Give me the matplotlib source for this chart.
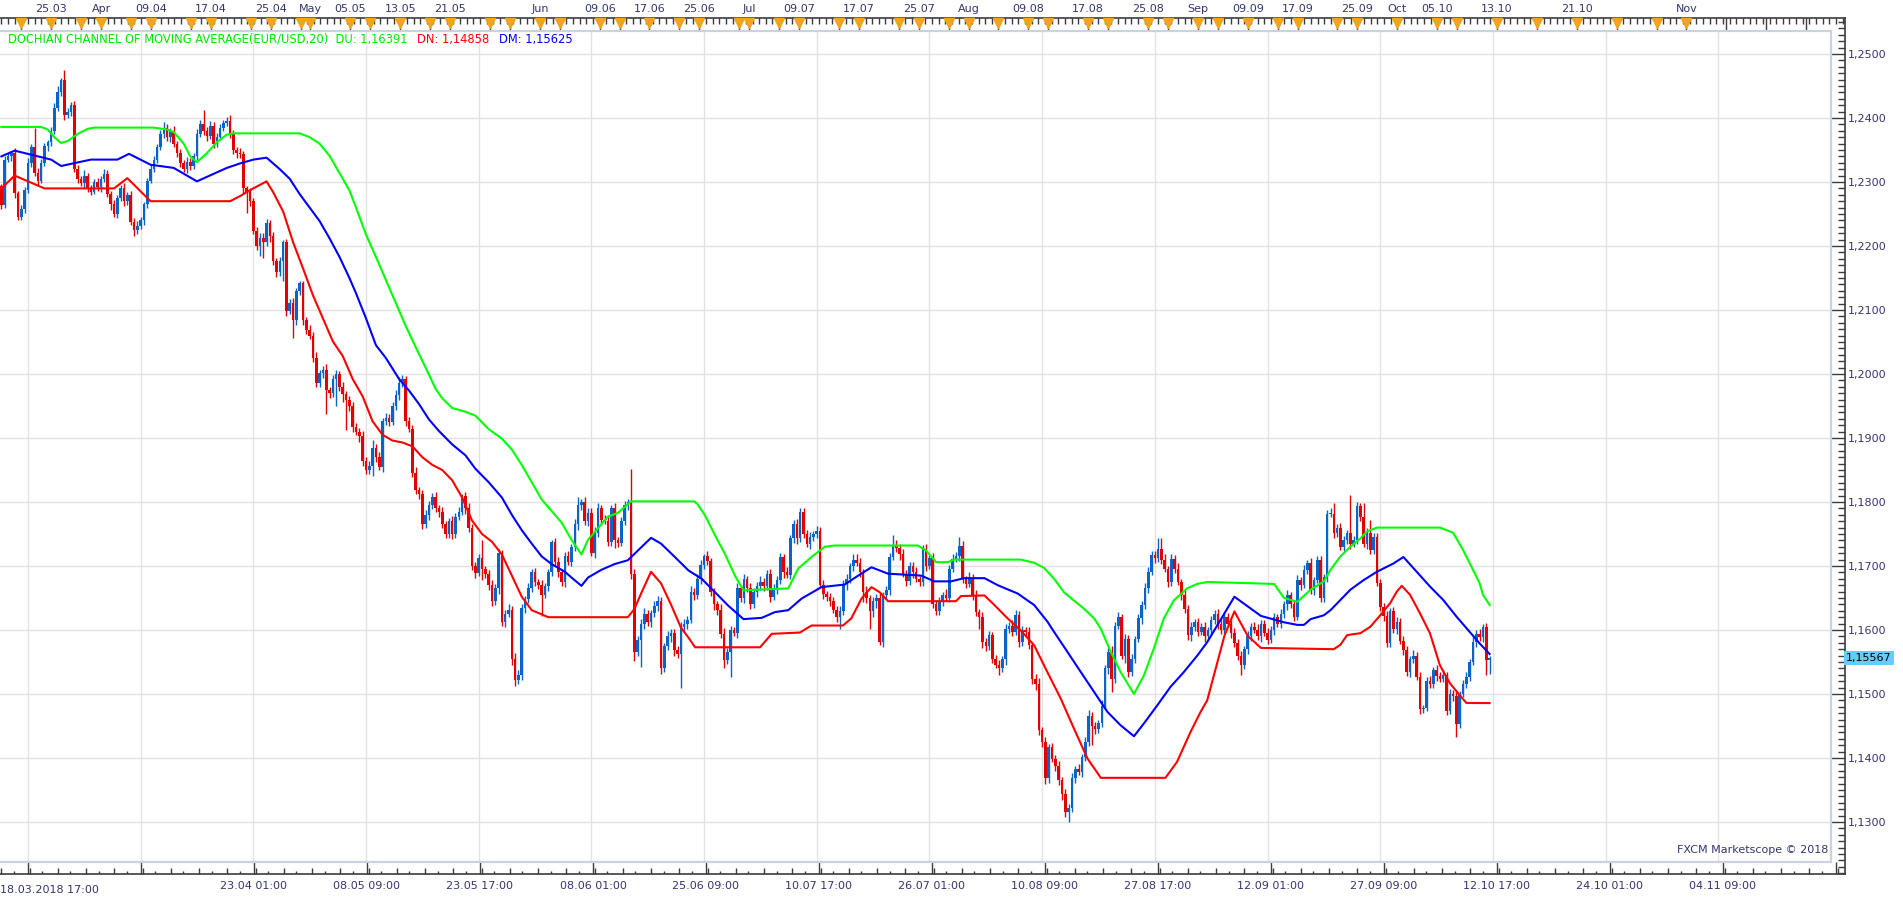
import numpy as np
import matplotlib.pyplot as plt
from matplotlib.ticker import FixedLocator, MultipleLocator, FuncFormatter

plt.rcParams['font.family'] = 'DejaVu Sans'
plt.rcParams['font.size'] = 8

# ---------------- datos (velas de 8h, precios en pips: 2264 -> 1.2264) ----------------
open0 = 2293
closes = [
    2264, 2335, 2340, 2345, 2283, 2245, 2258, 2287, 2330, 2355,
    2314, 2302, 2330, 2356, 2362, 2380, 2415, 2440, 2460, 2405,
    2410, 2420, 2320, 2305, 2298, 2310, 2290, 2285, 2300, 2292,
    2305, 2312, 2282, 2265, 2250, 2275, 2290, 2270, 2280, 2238,
    2225, 2232, 2240, 2265, 2302, 2320, 2335, 2355, 2375, 2385,
    2370, 2380, 2360, 2345, 2330, 2320, 2332, 2325, 2340, 2375,
    2390, 2380, 2372, 2388, 2360, 2370, 2385, 2392, 2395, 2376,
    2350, 2345, 2343, 2290, 2284, 2270, 2224, 2200, 2212, 2206,
    2236, 2215, 2177, 2159, 2177, 2206, 2099, 2111, 2084, 2129,
    2142, 2084, 2069, 2060, 2025, 1986, 2002, 2007, 1975, 1970,
    1992, 2000, 1980, 1968, 1960, 1950, 1917, 1910, 1903, 1864,
    1850, 1857, 1885, 1870, 1855, 1926, 1932, 1925, 1950, 1967,
    1986, 1992, 1926, 1914, 1846, 1819, 1812, 1765, 1780, 1796,
    1808, 1790, 1785, 1765, 1750, 1770, 1750, 1777, 1785, 1810,
    1790, 1760, 1700, 1689, 1712, 1695, 1688, 1670, 1646, 1665,
    1720, 1612, 1625, 1632, 1555, 1522, 1530, 1634, 1648, 1665,
    1690, 1675, 1670, 1655, 1668, 1690, 1738, 1706, 1690, 1675,
    1715, 1707, 1729, 1765, 1795, 1800, 1770, 1783, 1720, 1752,
    1790, 1772, 1770, 1738, 1790, 1740, 1736, 1770, 1795, 1800,
    1688, 1566, 1585, 1610, 1625, 1612, 1626, 1638, 1646, 1541,
    1575, 1590, 1595, 1569, 1563, 1604, 1610, 1616, 1660, 1654,
    1680, 1701, 1715, 1708, 1659, 1640, 1632, 1594, 1553, 1566,
    1600, 1595, 1665, 1650, 1680, 1665, 1640, 1660, 1668, 1675,
    1668, 1688, 1652, 1664, 1678, 1714, 1690, 1686, 1743, 1765,
    1743, 1784, 1750, 1735, 1745, 1750, 1755, 1670, 1656, 1652,
    1645, 1632, 1620, 1630, 1672, 1680, 1700, 1710, 1705, 1690,
    1660, 1650, 1630, 1645, 1650, 1581, 1655, 1662, 1714, 1733,
    1728, 1718, 1688, 1676, 1700, 1690, 1680, 1675, 1727, 1700,
    1712, 1641, 1630, 1645, 1655, 1650, 1696, 1711, 1716, 1732,
    1680, 1672, 1682, 1655, 1628, 1620, 1581, 1575, 1592, 1555,
    1545, 1540, 1555, 1602, 1607, 1597, 1623, 1581, 1600, 1597,
    1576, 1524, 1516, 1443, 1425, 1368, 1417, 1399, 1388, 1365,
    1344, 1316, 1322, 1368, 1383, 1378, 1401, 1425, 1466, 1450,
    1445, 1455, 1482, 1540, 1566, 1524, 1607, 1620, 1560, 1586,
    1534, 1555, 1586, 1618, 1639, 1665, 1691, 1717, 1712, 1727,
    1710, 1695, 1675, 1711, 1696, 1675, 1655, 1633, 1592, 1604,
    1612, 1597, 1605, 1590, 1600, 1615, 1625, 1610, 1600, 1620,
    1610, 1595, 1580, 1560, 1545, 1570, 1590, 1605, 1600, 1590,
    1610, 1595, 1585, 1600, 1620, 1610, 1625, 1640, 1655, 1640,
    1621, 1678, 1670, 1694, 1704, 1662, 1678, 1709, 1650, 1683,
    1782, 1782, 1751, 1760, 1730, 1741, 1751, 1735, 1741, 1793,
    1777, 1735, 1752, 1725, 1746, 1673, 1636, 1622, 1580, 1630,
    1601, 1613, 1583, 1569, 1534, 1555, 1560, 1527, 1476, 1478,
    1521, 1516, 1537, 1528, 1524, 1530, 1474, 1500, 1497, 1453,
    1500, 1516, 1527, 1550, 1581, 1594, 1589, 1605, 1553, 1557,
]
# mecha superior / inferior (pips fuera del cuerpo)
hi_ext = [
    4, 5, 6, 4, 8, 3, 6, 5, 7, 5,   29, 8, 6, 5, 4, 6, 8, 10, 2, 15,
    6, 5, 7, 6, 5, 8, 4, 6, 5, 7,   5, 8, 6, 4, 7, 5, 6, 8, 4, 6,
    5, 7, 6, 4, 5, 8, 6, 5, 7, 9,   6, 5, 8, 4, 6, 5, 7, 5, 6, 8,
    7, 23, 6, 8, 5, 7, 6, 5, 7, 9,  6, 5, 8, 6, 4, 7, 5, 6, 8, 9,
    6, 4, 7, 5, 6, 3, 5, 6, 7, 5,   3, 3, 5, 7, 6, 9, 5, 6, 8, 5,
    7, 6, 5, 8, 6, 5, 7, 6, 5, 8,   6, 7, 12, 5, 8, 6, 7, 5, 6, 8,
    9, 6, 5, 7, 6, 8, 5, 6, 7, 5,   6, 8, 5, 7, 6, 5, 8, 6, 7, 3,
    6, 8, 5, 7, 6, 28, 5, 6, 8, 7,  6, 5, 7, 8, 6, 9, 7, 6, 5, 8,
    6, 7, 5, 8, 6, 5, 3, 6, 8, 5,   7, 9, 6, 8, 13, 4, 8, 8, 7, 9,
    8, 6, 7, 9, 6, 8, 5, 7, 6, 5,   52, 8, 6, 7, 9, 6, 5, 8, 7, 6,
    5, 8, 6, 7, 6, 9, 7, 6, 8, 5,   7, 9, 4, 8, 5, 7, 6, 8, 9, 6,
    7, 5, 8, 6, 7, 5, 8, 6, 7, 9,   6, 5, 7, 8, 6, 7, 5, 8, 6, 7,
    9, 6, 7, 6, 8, 5, 7, 6, 8, 5,   6, 7, 5, 8, 6, 7, 5, 8, 9, 7,
    6, 8, 5, 7, 6, 8, 5, 7, 6, 15,  8, 6, 8, 5, 7, 6, 8, 5, 6, 7,
    5, 8, 6, 7, 5, 9, 6, 8, 6, 13,  7, 5, 8, 6, 7, 5, 8, 6, 7, 5,
    6, 8, 5, 7, 6, 8, 9, 6, 7, 5,   8, 6, 7, 9, 6, 8, 5, 7, 6, 8,
    5, 7, 6, 8, 5, 7, 6, 8, 9, 6,   7, 5, 8, 6, 7, 9, 6, 8, 5, 7,
    6, 8, 5, 7, 6, 9, 8, 6, 7, 16,  16, 8, 5, 7, 6, 8, 5, 7, 6, 8,
    5, 7, 6, 8, 5, 7, 6, 8, 9, 6,   7, 5, 8, 6, 7, 5, 8, 6, 7, 9,
    6, 5, 8, 6, 7, 5, 8, 6, 7, 5,   6, 8, 5, 7, 6, 8, 5, 7, 6, 5,
    6, 9, 16, 6, 7, 6, 5, 60, 6, 7, 5, 21, 8, 20, 6, 5, 7, 6, 8, 5,
    6, 8, 5, 7, 6, 5, 8, 6, 7, 5,   6, 7, 5, 8, 6, 7, 5, 8, 6, 7,
    5, 6, 7, 5, 8, 6, 7, 4, 6, 3,
]
lo_ext = [
    6, 5, 4, 7, 8, 4, 5, 6, 4, 7,   5, 6, 4, 5, 7, 6, 5, 4, 6, 8,
    5, 7, 4, 6, 5, 7, 6, 5, 4, 6,   7, 5, 6, 8, 4, 6, 5, 7, 6, 5,
    9, 6, 5, 7, 6, 4, 5, 6, 5, 7,   6, 8, 5, 6, 7, 5, 6, 7, 5, 6,
    5, 6, 8, 5, 7, 6, 5, 6, 4, 7,   6, 8, 5, 7, 33, 8, 5, 6, 15, 24,
    6, 8, 7, 7, 6, 32, 8, 6, 27, 8, 6, 7, 6, 5, 6, 6, 6, 8, 37, 7,
    6, 42, 7, 12, 48, 8, 7, 6, 9, 8, 7, 6, 17, 7, 5, 8, 6, 7, 5, 6,
    7, 6, 8, 5, 7, 6, 8, 7, 6, 8,   7, 6, 9, 5, 7, 6, 8, 7, 5, 6,
    8, 7, 6, 8, 5, 17, 6, 8, 9, 7,  8, 6, 7, 5, 9, 10, 6, 8, 7, 6,
    5, 7, 6, 33, 5, 7, 6, 5, 7, 6,  8, 5, 7, 6, 9, 7, 6, 8, 5, 7,
    6, 8, 5, 7, 6, 12, 7, 5, 6, 8,  9, 15, 7, 43, 8, 5, 7, 6, 8, 10,
    7, 6, 8, 9, 6, 54, 6, 8, 5, 7,  6, 8, 5, 7, 6, 8, 9, 7, 13, 6,
    39, 5, 7, 6, 8, 5, 7, 6, 8, 5,  7, 6, 8, 5, 7, 6, 8, 5, 6, 7,
    8, 6, 7, 5, 8, 6, 7, 5, 8, 6,   7, 5, 8, 18, 7, 9, 6, 8, 5, 7,
    16, 8, 28, 9, 10, 5, 8, 6, 7, 5, 6, 8, 5, 7, 6, 8, 5, 7, 6, 8,
    5, 7, 7, 6, 8, 5, 7, 6, 5, 8,   6, 7, 5, 8, 6, 18, 9, 8, 6, 7,
    5, 11, 6, 10, 7, 6, 5, 8, 6, 7, 5, 8, 9, 7, 8, 9, 7, 6, 8, 7,
    9, 8, 16, 6, 7, 5, 8, 6, 7, 30, 8, 6, 7, 5, 8, 21, 7, 5, 6, 12,
    8, 6, 7, 5, 8, 6, 7, 5, 8, 6,   7, 5, 8, 6, 7, 5, 8, 6, 7, 9,
    6, 7, 5, 8, 6, 7, 5, 8, 6, 7,   5, 8, 6, 7, 15, 6, 8, 7, 5, 6,
    8, 5, 7, 6, 8, 5, 7, 6, 8, 5,   7, 6, 8, 5, 7, 6, 8, 5, 7, 6,
    8, 5, 7, 6, 5, 7, 6, 8, 5, 7,   6, 5, 8, 6, 7, 5, 6, 8, 7, 6,
    6, 7, 5, 8, 6, 7, 6, 5, 7, 6,   5, 7, 6, 8, 6, 5, 7, 6, 8, 20,
    6, 5, 7, 6, 5, 7, 6, 8, 23, 21,
]

# canal de Donchian de la media movil
du_i = [0, 12, 14, 16, 18, 20, 23, 26, 28, 46, 50, 52, 55, 57, 59, 62, 65, 68, 70, 90, 93, 96, 99, 102, 105, 107,
        110, 113, 116, 119, 122, 125, 128, 131, 133, 136, 140, 143, 147, 151, 154, 157, 160, 163, 166, 169, 172,
        175, 177, 180, 183, 186, 190, 209, 210, 212.3, 215.3, 218.3, 221.3, 223.9, 237.4, 240.4, 244.4, 248.4,
        251.4, 276.5, 279, 282, 285.5, 287.5, 307.6, 311.6, 314.6, 317.6, 320.6, 323.6, 326.7, 329.7, 331.7,
        334.7, 337.7, 341.7, 344.7, 347.7, 350.7, 353.7, 357.7, 360.8, 363.8, 384, 387, 391, 395, 399, 401, 404,
        407, 410, 412, 415, 434, 438, 441, 444, 446, 447, 449]
du_v = [1.2386, 1.2386, 1.2382, 1.2370, 1.2361, 1.2364, 1.2375, 1.2383, 1.2385, 1.2385, 1.2382, 1.2378, 1.2360,
        1.2340, 1.2331, 1.2345, 1.2362, 1.2374, 1.2376, 1.2376, 1.2370, 1.2360, 1.2341, 1.2314, 1.2287, 1.2260,
        1.2218, 1.2183, 1.2147, 1.2111, 1.2075, 1.2042, 1.2010, 1.1977, 1.1962, 1.1947, 1.1941, 1.1935, 1.1914,
        1.1899, 1.1882, 1.1858, 1.1831, 1.1804, 1.1786, 1.1768, 1.1741, 1.1718, 1.1741, 1.1759, 1.1777, 1.1783,
        1.1801, 1.1801, 1.1797, 1.1779, 1.1748, 1.1719, 1.1685, 1.1662, 1.1665, 1.1696, 1.1714, 1.1730, 1.1732,
        1.1732, 1.1724, 1.1706, 1.1706, 1.1710, 1.1710, 1.1705, 1.1697, 1.1680, 1.1659, 1.1646, 1.1633, 1.1618,
        1.1602, 1.1566, 1.1534, 1.1500, 1.1529, 1.1571, 1.1618, 1.1646, 1.1665, 1.1672, 1.1675, 1.1672, 1.1650,
        1.1644, 1.1663, 1.1676, 1.1694, 1.1715, 1.1730, 1.1743, 1.1754, 1.1760, 1.1760, 1.1752, 1.1725, 1.1694,
        1.1673, 1.1655, 1.16391]
dn_i = [0, 4, 13, 34, 38, 45, 69, 72, 76, 80, 82, 85, 88, 91, 94, 97, 100, 103, 106, 109, 112, 115, 118, 121, 124,
        127, 130, 133, 136, 139, 142, 145, 148, 151, 154, 157, 160, 165, 189, 191, 193, 196, 199, 202, 205, 207.3,
        209.3, 228.9, 232.4, 240.9, 244.4, 253.9, 256.4, 259.5, 262.5, 265, 267.5, 288, 289.5, 296.6, 299.6, 303.6,
        307.6, 311.6, 315.6, 319.6, 323.6, 327.7, 331.7, 351.2, 354.7, 358.8, 361.8, 363.8, 369, 372, 376, 380,
        402, 404, 406, 410, 413, 416, 419, 421, 422.5, 425, 428, 431, 434, 437, 440, 442, 449]
dn_v = [1.2290, 1.2310, 1.2290, 1.2290, 1.2306, 1.2270, 1.2270, 1.2278, 1.2290, 1.2301, 1.2284, 1.2254, 1.2206,
        1.2165, 1.2123, 1.2087, 1.2051, 1.2028, 1.1992, 1.1965, 1.1926, 1.1905, 1.1896, 1.1893, 1.1887, 1.1870,
        1.1858, 1.1850, 1.1834, 1.1807, 1.1771, 1.1750, 1.1738, 1.1718, 1.1685, 1.1652, 1.1631, 1.1620, 1.1620,
        1.1633, 1.1657, 1.1691, 1.1673, 1.1640, 1.1604, 1.1588, 1.1573, 1.1573, 1.1594, 1.1596, 1.1607, 1.1607,
        1.1618, 1.1649, 1.1667, 1.1659, 1.1645, 1.1645, 1.1653, 1.1654, 1.1639, 1.1618, 1.1599, 1.1576, 1.1534,
        1.1493, 1.1446, 1.1399, 1.1369, 1.1369, 1.1394, 1.1441, 1.1472, 1.1490, 1.1591, 1.1629, 1.1591, 1.1572,
        1.1570, 1.1577, 1.1592, 1.1595, 1.1605, 1.1623, 1.1642, 1.1660, 1.1669, 1.1655, 1.1626, 1.1595, 1.1545,
        1.1517, 1.1498, 1.1486, 1.14858]
dm_i = [0, 4, 15, 18, 27, 35, 38.5, 45, 52, 59, 68, 72, 76, 80, 84, 87, 90, 93, 96, 99, 102, 105, 107, 110, 113, 116,
        120, 123, 126, 129, 132, 136, 140, 143, 147, 151, 154, 157, 160, 163, 166, 170, 172, 175, 177, 181, 185,
        189, 192, 196, 199, 203, 207.3, 211.3, 215.3, 219.3, 223.9, 229.4, 233.4, 237.4, 241.4, 247.4, 254.4,
        258.5, 262.5, 267.5, 277.5, 281.5, 286.5, 290.5, 296.6, 300.6, 306.6, 311.6, 315.6, 317.6, 321.6, 325.7,
        329.7, 333.7, 337.7, 341.7, 344.7, 348.7, 352.7, 356.7, 360.8, 363.8, 372, 380, 387, 391, 393, 395, 399,
        401, 404, 407, 411, 415, 420, 423, 427, 431, 435, 439, 443, 446, 449]
dm_v = [1.2340, 1.2349, 1.2335, 1.2325, 1.2335, 1.2335, 1.2344, 1.2327, 1.2322, 1.2301, 1.2322, 1.2329, 1.2335,
        1.2338, 1.2320, 1.2305, 1.2281, 1.2260, 1.2239, 1.2212, 1.2183, 1.2150, 1.2126, 1.2087, 1.2045, 1.2025,
        1.1992, 1.1974, 1.1953, 1.1929, 1.1911, 1.1890, 1.1873, 1.1852, 1.1831, 1.1807, 1.1780, 1.1756, 1.1735,
        1.1715, 1.1703, 1.1691, 1.1682, 1.1669, 1.1682, 1.1694, 1.1703, 1.1709, 1.1724, 1.1744, 1.1735, 1.1715,
        1.1693, 1.1680, 1.1659, 1.1638, 1.1617, 1.1619, 1.1628, 1.1631, 1.1649, 1.1667, 1.1671, 1.1685, 1.1698,
        1.1688, 1.1685, 1.1676, 1.1676, 1.1681, 1.1681, 1.1670, 1.1657, 1.1639, 1.1613, 1.1597, 1.1566, 1.1534,
        1.1503, 1.1472, 1.1451, 1.1434, 1.1454, 1.1482, 1.1511, 1.1534, 1.1560, 1.1581, 1.1652, 1.1622, 1.1612,
        1.1608, 1.1608, 1.1617, 1.1623, 1.1631, 1.1647, 1.1663, 1.1678, 1.1691, 1.1704, 1.1714, 1.1691, 1.1668,
        1.1647, 1.1621, 1.1597, 1.1579, 1.15625]

ultimo = 1.15567
leyenda = "DOCHIAN CHANNEL OF MOVING AVERAGE(EUR/USD,20)"
du_txt, dn_txt, dm_txt = "1,16391", "1,14858", "1,15625"

# eje inferior: lineas de rejilla cada 34 velas
grid_i = [8 + 34 * k for k in range(17)]
bot_lab = ['', '', '23.04 01:00', '08.05 09:00', '23.05 17:00', '08.06 01:00', '25.06 09:00', '10.07 17:00',
           '26.07 01:00', '10.08 09:00', '27.08 17:00', '12.09 01:00', '27.09 09:00', '12.10 17:00',
           '24.10 01:00', '04.11 09:00', '']
# eje superior: marcas naranjas y fechas
tri_i = [6, 15, 24, 30, 39, 45, 57, 63, 75, 81, 90, 93, 105, 111, 120, 129, 135, 147, 153, 162, 168, 180, 186, 195,
         204, 210, 222, 225, 234, 240, 252, 258, 270, 276, 285, 291, 300, 309, 315, 327, 333, 345, 351, 360, 366,
         375, 384, 390, 402, 408, 420, 432, 438, 450, 462, 474, 486, 498, 507]
top_lab = {15: '25.03', 30: 'Apr', 45: '09.04', 63: '17.04', 81: '25.04', 93: 'May', 105: '05.05', 120: '13.05',
           135: '21.05', 162: 'Jun', 180: '09.06', 195: '17.06', 210: '25.06', 225: 'Jul', 240: '09.07',
           258: '17.07', 276: '25.07', 291: 'Aug', 309: '09.08', 327: '17.08', 345: '25.08', 360: 'Sep',
           375: '09.09', 390: '17.09', 408: '25.09', 420: 'Oct', 432: '05.10', 450: '13.10', 474: '21.10',
           507: 'Nov'}
top_extra = [519, 531, 543]

# ---------------- calculos ----------------
c = 1 + np.array(closes) / 10000
o = np.concatenate([[1 + open0 / 10000], c[:-1]])
hi = np.maximum(o, c) + np.array(hi_ext) / 10000
lo = np.minimum(o, c) - np.array(lo_ext) / 10000
x = np.arange(len(c))
sube = c >= o

# ---------------- figura ----------------
W, H = 1903, 900
fig = plt.figure(figsize=(W / 100, H / 100), dpi=100)
fig.patch.set_facecolor('white')

X0, DX = 1.4, 113 / 34          # pixel de la vela 0 y pixeles por vela
def ix(px):
    return (px - X0) / DX
def pr(py):
    return 1.25 - (py - 54) / 6400

NAVY = '#35356f'

# marco con los ejes (superior, inferior, derecho)
axf = fig.add_axes([0, (H - 874) / H, 1845 / W, (874 - 18) / H])
axf.set_xlim(ix(0), ix(1845))
axf.set_ylim(pr(874), pr(18))
axf.spines['left'].set_visible(False)
for s in ['top', 'bottom', 'right']:
    axf.spines[s].set_color('#3c3c3c')
    axf.spines[s].set_linewidth(1.2)
axf.set_facecolor('white')

# eje inferior
axf.xaxis.set_major_locator(FixedLocator(grid_i))
axf.set_xticklabels(bot_lab)
axf.xaxis.set_minor_locator(MultipleLocator(34 / 4))
axf.tick_params(axis='x', which='major', direction='in', length=8.6, width=1, color='#3c3c3c',
                labelcolor=NAVY, labelsize=8, pad=5, top=False)
axf.tick_params(axis='x', which='minor', direction='in', length=4.5, width=1, color='#3c3c3c', top=False)
ocho = [8 + 34 / 8 * k for k in range(-1, 130, 2)]
axf.vlines(ocho, 0, 3 / 856, transform=axf.get_xaxis_transform(), color='#3c3c3c', lw=1)
axf.text(ix(0), -16 / 856, '18.03.2018 17:00', transform=axf.get_xaxis_transform(), ha='left', va='center',
         color=NAVY, fontsize=8)

# eje derecho (precios)
axf.yaxis.tick_right()
axf.yaxis.set_major_locator(MultipleLocator(0.01))
axf.yaxis.set_minor_locator(MultipleLocator(0.001))
axf.yaxis.set_major_formatter(FuncFormatter(lambda v, p: f'{v:.4f}'.replace('.', ',')))
axf.tick_params(axis='y', which='major', direction='in', length=10, width=1, color='#3c3c3c',
                labelcolor=NAVY, labelsize=8, pad=2)
axf.tick_params(axis='y', which='minor', direction='in', length=5, width=1, color='#3c3c3c')
axf.text(1 + 1 / 1845, ultimo, '1,15567', transform=axf.get_yaxis_transform(), ha='left', va='center',
         fontsize=8, color='black', bbox=dict(boxstyle='square,pad=0.18', fc='#66ccff', ec='none'))

# eje superior (regla con fechas)
axt = axf.twiny()
axt.set_xlim(axf.get_xlim())
for s in ['left', 'right', 'bottom', 'top']:
    axt.spines[s].set_visible(False)
axt.xaxis.set_major_locator(FixedLocator(tri_i + top_extra))
axt.set_xticklabels([top_lab.get(t, '') for t in tri_i + top_extra])
axt.xaxis.set_minor_locator(MultipleLocator(2))
axt.tick_params(axis='x', which='major', direction='in', length=8.6, width=1, color='#3c3c3c',
                labelcolor=NAVY, labelsize=8, pad=3, bottom=False)
axt.tick_params(axis='x', which='minor', direction='in', length=4, width=1, color='#3c3c3c', bottom=False)
axt.plot(tri_i, [1 - 4.5 / 856] * len(tri_i), transform=axt.get_xaxis_transform(), ls='none', marker='v',
         ms=7, color='#f5a21c', mec='#f5a21c', clip_on=False, zorder=5)

# area del grafico
ax = fig.add_axes([0, (H - 862) / H, 1831 / W, (862 - 31) / H], zorder=3)
ax.set_xlim(ix(0), ix(1831))
ax.set_ylim(pr(862), pr(31))
ax.set_facecolor('white')
for s in ['top', 'bottom', 'right']:
    ax.spines[s].set_color('#c9d2de')
    ax.spines[s].set_linewidth(1.6)
ax.spines['left'].set_visible(False)
ax.set_xticks(grid_i)
ax.set_yticks(np.arange(1.13, 1.2501, 0.01))
ax.tick_params(length=0, labelbottom=False, labelleft=False)
ax.grid(True, color='#e2e2e2', lw=1)
ax.set_axisbelow(True)

# velas
col = np.where(sube, '#0a63c9', '#e30000')
ax.vlines(x, lo, hi, colors=col, lw=1, zorder=2)
ax.bar(x, np.maximum(np.abs(c - o), 0.00004), bottom=np.minimum(o, c), width=0.78, color=col, lw=0, zorder=2)

# lineas del indicador
ax.plot(du_i, du_v, color='#00ff00', lw=1.5, zorder=3)
ax.plot(dn_i, dn_v, color='#ff0000', lw=1.5, zorder=3)
ax.plot(dm_i, dm_v, color='#0000ff', lw=1.5, zorder=3)

# leyenda
t1 = ax.text(8 / 1831, 1 - 8 / 831, leyenda + '  DU: ' + du_txt, transform=ax.transAxes, ha='left', va='center',
             color='#00e600', fontsize=8.3)
t2 = ax.annotate('DN: ' + dn_txt, xy=(1, 0.5), xycoords=t1, xytext=(7, 0), textcoords='offset points',
                 ha='left', va='center', color='#ff0000', fontsize=8.3)
t3 = ax.annotate('DM: ' + dm_txt, xy=(1, 0.5), xycoords=t2, xytext=(7, 0), textcoords='offset points',
                 ha='left', va='center', color='#0000ff', fontsize=8.3)

ax.text(1 - 3 / 1831, 7 / 831, 'FXCM Marketscope © 2018', transform=ax.transAxes, ha='right', va='bottom',
        color=NAVY, fontsize=8)

fig.savefig('out.png', dpi=100)
